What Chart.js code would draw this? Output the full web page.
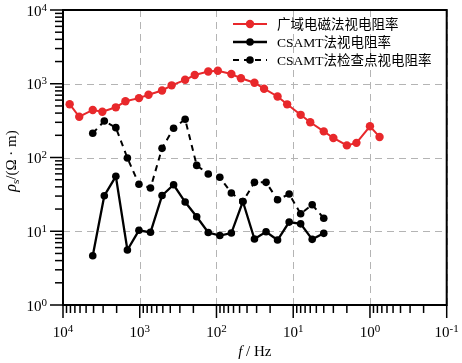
<!DOCTYPE html>
<html>
<head>
<meta charset="utf-8">
<script src="https://cdn.jsdelivr.net/npm/chart.js@4.4.1/dist/chart.umd.min.js"></script>
<style>
  body { margin: 0; background: #fff; }
  #chart { display: block; }
</style>
</head>
<body>
<canvas id="chart" width="462" height="363"></canvas>
<script>
// wide-field EM sounding
const wfemFreq = [8192, 6144, 4096, 3072, 2048, 1536, 1024, 768, 512, 384, 256, 192, 128, 96,
    64, 48, 32, 24, 16, 12, 8, 6, 4, 3, 2, 1.5, 1, 0.75];
const wfemRho = [528, 357, 441, 418, 479, 578, 638, 708, 810, 952, 1131, 1314, 1466, 1503,
    1356, 1185, 1033, 857, 672, 526, 379, 300, 226, 184, 146, 158, 265, 190];

// CSAMT sounding + check point
const csamtFreq = [4096, 2896, 2048, 1448, 1024, 724, 512, 362, 256, 181, 128, 90.5, 64, 45.3,
    32, 22.6, 16, 11.3, 8, 5.66, 4];
const csamtRho = [4.66, 30.3, 55.6, 5.57, 10.3, 9.67, 30.5, 42.7, 24.9, 15.7, 9.62, 8.75, 9.46,
    25.3, 7.85, 9.84, 7.6, 13.3, 12.6, 7.77, 9.37];
const checkRho = [213, 312, 254, 98.4, 43.4, 38.6, 133, 249, 330, 78.2, 59.7, 53.9, 33.0,
    25.3, 46.0, 46.0, 26.7, 32.0, 17.3, 22.9, 15.0];

const seriesLabels = ["广域电磁法视电阻率", "CSAMT法视电阻率", "CSAMT法检查点视电阻率"];
const xTickExp = [4, 3, 2, 1, 0, -1];
const yTickExp = [0, 1, 2, 3, 4];

const RED = "#e8282b";
const SERIF = '"Liberation Serif", "Times New Roman", serif';
const LEGEND_FONT = '13.5px "Liberation Serif", "Noto Sans CJK SC", serif';

function toPoints(xs, ys) {
    return xs.map((x, i) => ({ x: x, y: ys[i] }));
}

function drawPow(ctx, exp, x, y, align) {
    ctx.font = "15px " + SERIF;
    const w1 = ctx.measureText("10").width;
    ctx.font = "11px " + SERIF;
    const sup = String(exp);
    const w2 = ctx.measureText(sup).width;
    const total = w1 + w2;
    const start = align === "right" ? x - total : x - total / 2;
    ctx.textAlign = "left";
    ctx.textBaseline = "alphabetic";
    ctx.font = "15px " + SERIF;
    ctx.fillText("10", start, y);
    ctx.font = "11px " + SERIF;
    ctx.fillText(sup, start + w1, y - 5);
}

const axesPlugin = {
    id: "axesPlugin",
    beforeDatasetsDraw(chart) {
        const { ctx, chartArea: a, scales } = chart;
        ctx.save();
        ctx.strokeStyle = "#b4b4b4";
        ctx.lineWidth = 1;
        ctx.setLineDash([7, 5]);
        xTickExp.forEach((e) => {
            const px = Math.round(scales.x.getPixelForValue(Math.pow(10, e))) + 0.5;
            ctx.beginPath();
            ctx.moveTo(px, a.top);
            ctx.lineTo(px, a.bottom);
            ctx.stroke();
        });
        yTickExp.forEach((e) => {
            const py = Math.round(scales.y.getPixelForValue(Math.pow(10, e))) + 0.5;
            ctx.beginPath();
            ctx.moveTo(a.left, py);
            ctx.lineTo(a.right, py);
            ctx.stroke();
        });
        ctx.restore();
    },
    afterDraw(chart) {
        const { ctx, chartArea: a, scales } = chart;
        ctx.save();
        ctx.strokeStyle = "#000";
        ctx.fillStyle = "#000";
        ctx.setLineDash([]);

        // frame
        ctx.lineWidth = 2;
        ctx.strokeRect(a.left, a.top, a.right - a.left, a.bottom - a.top);

        // tick marks
        ctx.lineWidth = 1.5;
        for (let e = -1; e <= 4; e++) {
            for (let m = 1; m <= 9; m++) {
                const v = m * Math.pow(10, e);
                const len = m === 1 ? 13 : 8;
                if (v >= 0.1 && v <= 10000) {
                    const px = scales.x.getPixelForValue(v);
                    ctx.beginPath();
                    ctx.moveTo(px, a.bottom);
                    ctx.lineTo(px, a.bottom + len);
                    ctx.stroke();
                }
                if (v >= 1 && v <= 10000) {
                    const py = scales.y.getPixelForValue(v);
                    ctx.beginPath();
                    ctx.moveTo(a.left, py);
                    ctx.lineTo(a.left - len, py);
                    ctx.stroke();
                }
            }
        }

        // tick labels
        xTickExp.forEach((e) => {
            drawPow(ctx, e, scales.x.getPixelForValue(Math.pow(10, e)), 337, "center");
        });
        yTickExp.forEach((e) => {
            drawPow(ctx, e, 47, scales.y.getPixelForValue(Math.pow(10, e)) + 5.5, "right");
        });

        // x title: f / Hz
        ctx.textBaseline = "alphabetic";
        ctx.textAlign = "left";
        ctx.font = "italic 15px " + SERIF;
        const wf = ctx.measureText("f").width;
        ctx.font = "15px " + SERIF;
        const wr = ctx.measureText(" / Hz").width;
        const xs = (a.left + a.right) / 2 - (wf + wr) / 2;
        ctx.font = "italic 15px " + SERIF;
        ctx.fillText("f", xs, 356);
        ctx.font = "15px " + SERIF;
        ctx.fillText(" / Hz", xs + wf, 356);

        // y title: rho_s / (Ω·m)
        ctx.save();
        ctx.translate(15.5, 161);
        ctx.rotate(-Math.PI / 2);
        ctx.font = "italic 16px " + SERIF;
        const wp = ctx.measureText("ρ").width;
        ctx.font = "11px " + SERIF;
        const ws = ctx.measureText("s").width;
        ctx.font = "15px " + SERIF;
        const wu = ctx.measureText("/(Ω · m)").width;
        let cx = -(wp + ws + wu) / 2;
        ctx.font = "italic 16px " + SERIF;
        ctx.fillText("ρ", cx, 0);
        cx += wp;
        ctx.font = "11px " + SERIF;
        ctx.fillText("s", cx, 3);
        cx += ws;
        ctx.font = "15px " + SERIF;
        ctx.fillText("/(Ω · m)", cx, 0);
        ctx.restore();

        // legend
        chart.data.datasets.forEach((ds, i) => {
            const y = 24 + i * 18;
            ctx.strokeStyle = ds.borderColor;
            ctx.fillStyle = ds.borderColor;
            ctx.lineWidth = ds.borderWidth;
            ctx.setLineDash(ds.borderDash || []);
            ctx.beginPath();
            ctx.moveTo(233, y);
            ctx.lineTo(267, y);
            ctx.stroke();
            ctx.setLineDash([]);
            ctx.beginPath();
            ctx.arc(250, y, ds.pointRadius, 0, Math.PI * 2);
            ctx.fill();
            ctx.fillStyle = "#000";
            ctx.font = LEGEND_FONT;
            ctx.textBaseline = "middle";
            ctx.fillText(ds.label, 277, y + 1);
        });
        ctx.restore();
    }
};

new Chart(document.getElementById("chart"), {
    type: "line",
    data: {
        datasets: [
            {
                label: seriesLabels[0],
                data: toPoints(wfemFreq, wfemRho),
                borderColor: RED,
                backgroundColor: RED,
                borderWidth: 2,
                pointRadius: 4.2,
                pointBorderWidth: 0,
                pointBackgroundColor: RED,
            },
            {
                label: seriesLabels[1],
                data: toPoints(csamtFreq, csamtRho),
                borderColor: "#000",
                backgroundColor: "#000",
                borderWidth: 2.3,
                pointRadius: 3.8,
                pointBorderWidth: 0,
                pointBackgroundColor: "#000",
            },
            {
                label: seriesLabels[2],
                data: toPoints(csamtFreq, checkRho),
                borderColor: "#000",
                backgroundColor: "#000",
                borderWidth: 2,
                borderDash: [6, 5],
                pointRadius: 3.8,
                pointBorderWidth: 0,
                pointBackgroundColor: "#000",
            },
        ],
    },
    options: {
        responsive: false,
        animation: false,
        events: [],
        layout: { padding: { top: 10, right: 15.3, left: 0, bottom: 0 } },
        plugins: { legend: { display: false }, tooltip: { enabled: false } },
        scales: {
            x: {
                type: "logarithmic",
                reverse: true,
                min: 0.1,
                max: 10000,
                grid: { display: false },
                border: { display: false },
                ticks: { display: false },
                afterFit(s) { s.height = 58; },
            },
            y: {
                type: "logarithmic",
                min: 1,
                max: 10000,
                grid: { display: false },
                border: { display: false },
                ticks: { display: false },
                afterFit(s) { s.width = 63; },
            },
        },
    },
    plugins: [axesPlugin],
});
</script>
</body>
</html>
